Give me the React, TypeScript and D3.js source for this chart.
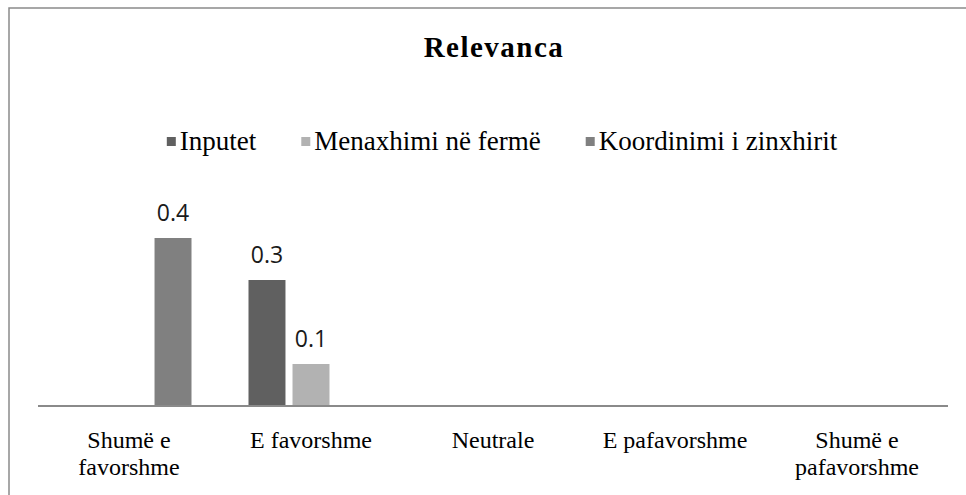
import { useEffect, useRef } from "react";
import * as d3 from "d3";

const categories = [
  ["Shumë e", "favorshme"],
  ["E favorshme"],
  ["Neutrale"],
  ["E pafavorshme"],
  ["Shumë e", "pafavorshme"],
];

const seriesNames = ["Inputet", "Menaxhimi në fermë", "Koordinimi i zinxhirit"];
const seriesColors = ["#606060", "#b2b2b2", "#808080"];

const inputet = [0, 0.3, 0, 0, 0];
const menaxhimi = [0, 0.1, 0, 0, 0];
const koordinimi = [0.4, 0, 0, 0, 0];

const W = 966;
const H = 495;
const serif = "'Liberation Serif', 'Times New Roman', serif";

export default function App() {
  const ref = useRef<SVGSVGElement>(null);

  useEffect(() => {
    if (!ref.current) return;
    const svg = d3.select(ref.current);
    svg.selectAll("*").remove();

    const values = [inputet, menaxhimi, koordinimi];
    const baseY = 406;

    const x0 = d3
      .scaleBand<number>()
      .domain(d3.range(categories.length))
      .range([38, 948]);
    const x1 = d3
      .scaleBand<number>()
      .domain(d3.range(seriesNames.length))
      .range([0, 125])
      .paddingInner(0.16);
    const y = d3.scaleLinear().domain([0, 0.5]).range([baseY, baseY - 210]);

    // frame
    svg
      .append("path")
      .attr("d", `M9,${H} L9,8 L${W},8`)
      .attr("fill", "none")
      .attr("stroke", "#8a8a8a")
      .attr("stroke-width", 1.5);

    // title
    svg
      .append("text")
      .attr("x", 494)
      .attr("y", 57)
      .attr("text-anchor", "middle")
      .attr("font-family", serif)
      .attr("font-weight", "bold")
      .attr("font-size", 29)
      .attr("letter-spacing", 1.5)
      .text("Relevanca");

    // legend
    const legend = svg.append("g");
    let lx = 0;
    seriesNames.forEach((name, i) => {
      const g = legend.append("g").attr("transform", `translate(${lx},0)`);
      g.append("rect")
        .attr("x", 0)
        .attr("y", -5)
        .attr("width", 9)
        .attr("height", 9)
        .attr("fill", seriesColors[i]);
      const t = g
        .append("text")
        .attr("x", 13)
        .attr("y", 8)
        .attr("font-family", serif)
        .attr("font-size", 27)
        .text(name);
      const w = (t.node() as SVGTextElement).getComputedTextLength();
      lx += 13 + w + 45;
    });
    const legendW = lx - 45;
    legend.attr("transform", `translate(${502 - legendW / 2},142)`);

    // bars
    values.forEach((vals, si) => {
      const g = svg.append("g");
      vals.forEach((v, ci) => {
        if (v <= 0) return;
        const bx = x0(ci)! + (x0.bandwidth() - 125) / 2 + x1(si)!;
        g.append("rect")
          .attr("x", bx)
          .attr("y", y(v))
          .attr("width", x1.bandwidth())
          .attr("height", baseY - y(v))
          .attr("fill", seriesColors[si]);
        g.append("text")
          .attr("x", bx + x1.bandwidth() / 2)
          .attr("y", y(v) - 17)
          .attr("text-anchor", "middle")
          .attr("font-family", "'Open Sans', sans-serif")
          .attr("font-size", 23)
          .attr("fill", "#1a1a1a")
          .text(v.toFixed(1));
      });
    });

    // axis line
    svg
      .append("line")
      .attr("x1", 38)
      .attr("x2", 948)
      .attr("y1", baseY)
      .attr("y2", baseY)
      .attr("stroke", "#8a8a8a")
      .attr("stroke-width", 2);

    // category labels
    categories.forEach((lines, ci) => {
      const cx = x0(ci)! + x0.bandwidth() / 2;
      lines.forEach((line, li) => {
        svg
          .append("text")
          .attr("x", cx)
          .attr("y", 448 + li * 27)
          .attr("text-anchor", "middle")
          .attr("font-family", serif)
          .attr("font-size", 24)
          .text(line);
      });
    });
  }, []);

  return (
    <div style={{ position: "fixed", left: 0, top: 0, width: W, height: H, background: "#fff" }}>
      <svg ref={ref} width={W} height={H} style={{ display: "block" }} />
    </div>
  );
}
